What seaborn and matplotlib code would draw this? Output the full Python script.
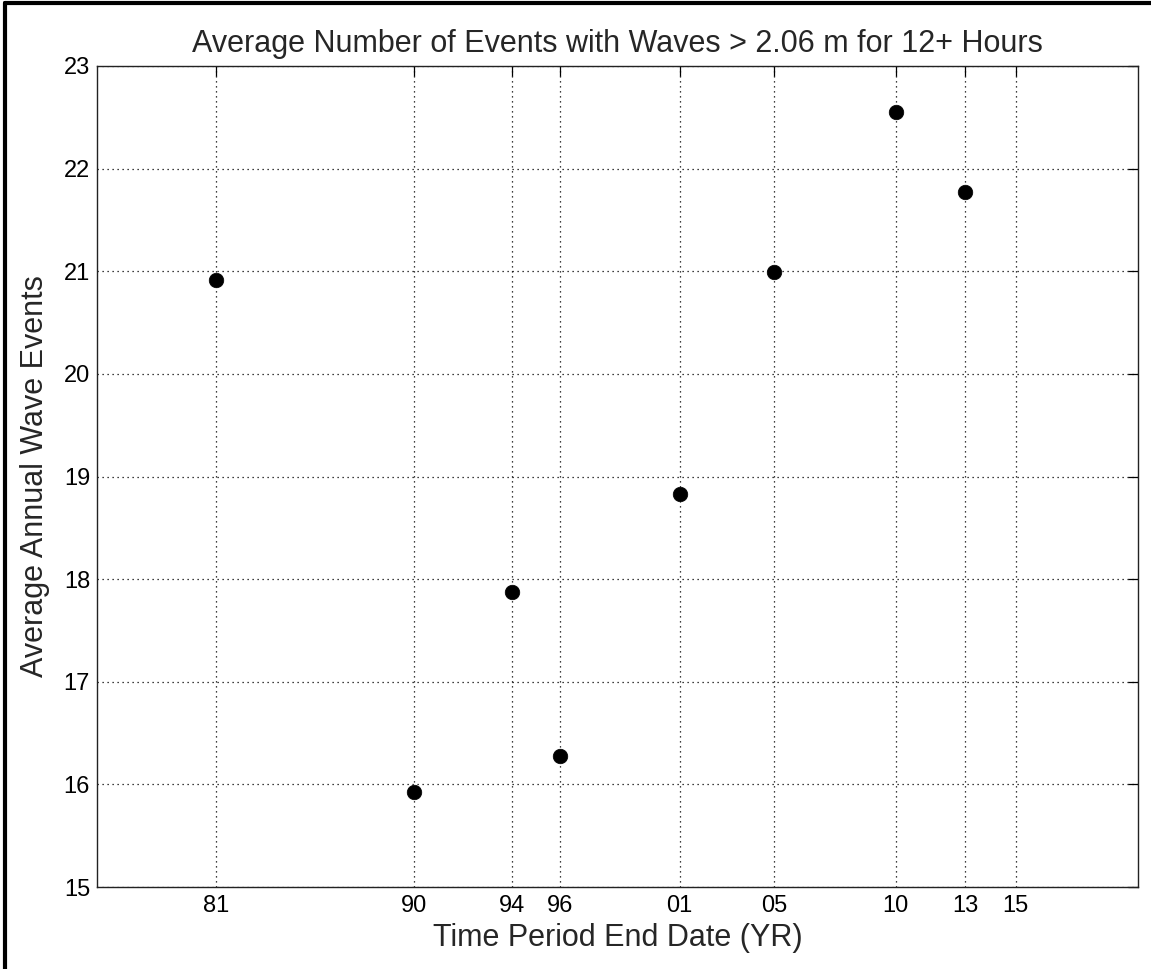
import matplotlib
matplotlib.use("Agg")
import matplotlib.pyplot as plt
import matplotlib.lines as mlines
import seaborn as sns
import pandas as pd

# period end dates (decimal years) and the averages
end_years = [1981.75, 1990.0, 1994.05, 1996.05, 2001.03, 2004.96, 2010.02, 2012.91]
avg_events = [20.91, 15.93, 17.87, 16.28, 18.83, 20.99, 22.55, 21.77]

tick_years = [1981.75, 1990.0, 1994.05, 1996.05, 2001.03, 2004.96, 2010.02, 2012.91, 2015.0]
tick_labels = ["81", "90", "94", "96", "01", "05", "10", "13", "15"]
y_ticks = [15, 16, 17, 18, 19, 20, 21, 22, 23]

df = pd.DataFrame({"year": end_years, "events": avg_events})

sns.set_theme(style="white")
plt.rcParams["font.family"] = ["Liberation Sans", "DejaVu Sans"]

fig = plt.figure(figsize=(11.51, 9.69), dpi=100)
ax = fig.add_axes([0.0843, 0.0846, 0.9047, 0.8473])

sns.scatterplot(data=df, x="year", y="events", ax=ax, color="black",
                marker="o", s=110, edgecolor="black", linewidth=0.5, zorder=3)

ax.set_xlim(1976.82, 2020.1)
ax.set_ylim(15, 23)
ax.set_xticks(tick_years)
ax.set_xticklabels(tick_labels)
ax.set_yticks(y_ticks)

ax.grid(True, linestyle=(0, (1, 3)), color="black", linewidth=0.9)
ax.tick_params(axis="both", which="both", direction="in", length=7,
               width=0.9, top=True, right=True, labelsize=17, colors="black")
ax.tick_params(axis="x", pad=6)
ax.tick_params(axis="y", pad=5)
for sp in ax.spines.values():
    sp.set_color("#222222")
    sp.set_linewidth(1.0)

ax.set_title("Average Number of Events with Waves > 2.06 m for 12+ Hours",
             fontsize=22, pad=10)
ax.set_xlabel("Time Period End Date (YR)", fontsize=22, labelpad=4)
ax.set_ylabel("Average Annual Wave Events", fontsize=22, labelpad=10)

# figure frame on the top and left edges
fig.add_artist(mlines.Line2D([0.004, 0.004], [0, 0.997], transform=fig.transFigure,
                             color="black", linewidth=3))
fig.add_artist(mlines.Line2D([0.004, 1], [0.997, 0.997], transform=fig.transFigure,
                             color="black", linewidth=3))

fig.savefig("out.png", dpi=100, facecolor="white")
